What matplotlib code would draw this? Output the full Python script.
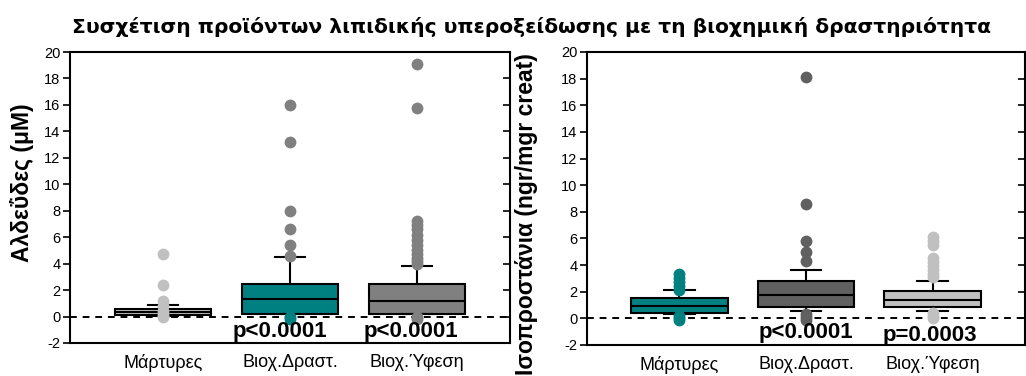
import matplotlib
matplotlib.use("Agg")
import matplotlib.pyplot as plt

# ---------------- data ----------------
categories = ['Μάρτυρες', 'Βιοχ.Δραστ.', 'Βιοχ.Ύφεση']
title = 'Συσχέτιση προϊόντων λιπιδικής υπεροξείδωσης με τη βιοχημική δραστηριότητα'
left_ylabel = 'Αλδεΰδες (μM)'
right_ylabel = 'Ισοπροστάνια (ngr/mgr creat)'

# Aldehydes (left panel)
ald_q1 = [0.15, 0.2, 0.2]
ald_med = [0.35, 1.35, 1.2]
ald_q3 = [0.55, 2.45, 2.45]
ald_whislo = [0.05, 0.2, 0.2]
ald_whishi = [0.9, 4.5, 3.85]
ald_fliers_hi = [[4.7, 2.4, 1.2, 0.8],
                 [16.0, 13.2, 8.0, 6.6, 5.4, 4.6],
                 [19.1, 15.8, 7.2, 6.9, 6.6, 6.2, 5.8, 5.4, 5.0, 4.7, 4.4, 4.2, 4.0]]
ald_fliers_lo = [[0.45, 0.1, -0.05],
                 [0.0, -0.2],
                 [0.0, -0.2]]
ald_pvals = ['', 'p<0.0001', 'p<0.0001']

# Isoprostanes (right panel)
iso_q1 = [0.37, 0.88, 0.88]
iso_med = [0.92, 1.73, 1.35]
iso_q3 = [1.5, 2.82, 2.03]
iso_whislo = [0.3, 0.52, 0.52]
iso_whishi = [2.12, 3.65, 2.82]
iso_fliers_hi = [[3.3, 3.0, 2.7, 2.4, 2.1],
                 [18.1, 8.6, 5.8, 5.0, 4.3],
                 [6.1, 5.8, 5.5, 4.5, 4.2, 3.9, 3.6, 3.3, 3.1]]
iso_fliers_lo = [[0.2, 0.0, -0.15],
                 [0.3, 0.1, -0.1],
                 [0.4, 0.2, 0.0]]
iso_pvals = ['', 'p<0.0001', 'p=0.0003']

yticks = [-2, 0, 2, 4, 6, 8, 10, 12, 14, 16, 18, 20]

# ---------------- styles ----------------
TEAL = '#008080'
GRAY = '#808080'
LGRAY = '#c0c0c0'
DGRAY = '#606060'

ald_face = [LGRAY, TEAL, GRAY]
ald_hi_col = [LGRAY, GRAY, GRAY]
ald_lo_col = [LGRAY, TEAL, GRAY]
iso_face = [TEAL, DGRAY, LGRAY]
iso_hi_col = [TEAL, DGRAY, LGRAY]
iso_lo_col = [TEAL, DGRAY, LGRAY]

W, H = 1026, 376
fig = plt.figure(figsize=(W / 100, H / 100), dpi=100)
fig.patch.set_facecolor('white')

def frac(x0, y_top, x1, y_bot):
    return [x0 / W, 1 - y_bot / H, (x1 - x0) / W, (y_bot - y_top) / H]

ax1 = fig.add_axes(frac(70, 52, 510, 343))
ax2 = fig.add_axes(frac(587, 52, 1025, 345))

TICKFONT = 'Liberation Sans'

def draw_panel(ax, q1, med, q3, wlo, whi, fl_hi, fl_lo, face, hi_col, lo_col, pvals, ppos):
    pos = list(range(1, len(categories) + 1))
    stats = []
    for i in range(len(categories)):
        stats.append(dict(q1=q1[i], med=med[i], q3=q3[i], whislo=wlo[i],
                          whishi=whi[i], fliers=[], label=categories[i]))
    ax.axhline(0, color='black', lw=1.4, ls=(0, (3.5, 3)), zorder=1)
    bp = ax.bxp(stats, positions=pos, widths=0.76, capwidths=0.24,
                showfliers=False, patch_artist=True,
                boxprops=dict(linewidth=1.5, edgecolor='black'),
                medianprops=dict(color='black', linewidth=1.5),
                whiskerprops=dict(color='black', linewidth=1.5),
                capprops=dict(color='black', linewidth=1.5))
    for patch, c in zip(bp['boxes'], face):
        patch.set_facecolor(c)
        patch.set_zorder(2)
    for i, p in enumerate(pos):
        ax.plot([p] * len(fl_hi[i]), fl_hi[i], 'o', color=hi_col[i],
                markersize=8.5, markeredgewidth=0, zorder=4, clip_on=False)
        ax.plot([p] * len(fl_lo[i]), fl_lo[i], 'o', color=lo_col[i],
                markersize=8.5, markeredgewidth=0, zorder=4, clip_on=False)
    for i, t in enumerate(pvals):
        if t:
            ax.text(ppos[i][0], ppos[i][1], t, ha='center', va='center',
                    fontsize=16, fontweight='bold', family='Liberation Sans',
                    zorder=5, clip_on=False)
    ax.set_xlim(0.27, 3.73)
    ax.set_ylim(-2, 20)
    ax.set_yticks(yticks)
    ax.set_yticklabels([str(v) for v in yticks], family=TICKFONT, fontsize=10.5)
    ax.set_xticks(pos)
    ax.set_xticklabels(categories, family=TICKFONT, fontsize=13)
    ax.tick_params(axis='x', length=0, pad=8)
    ax.tick_params(axis='y', direction='out', length=5, width=1.2, pad=2,
                   right=True)
    for s in ax.spines.values():
        s.set_linewidth(1.5)
        s.set_color('black')
    # right-side ticks point inward
    for tl in ax.yaxis.get_ticklines()[1::2]:
        tl.set_marker(0)
        tl.set_markersize(5)

draw_panel(ax1, ald_q1, ald_med, ald_q3, ald_whislo, ald_whishi,
           ald_fliers_hi, ald_fliers_lo, ald_face, ald_hi_col, ald_lo_col,
           ald_pvals, [None, (1.92, -1.15), (2.95, -1.15)])
draw_panel(ax2, iso_q1, iso_med, iso_q3, iso_whislo, iso_whishi,
           iso_fliers_hi, iso_fliers_lo, iso_face, iso_hi_col, iso_lo_col,
           iso_pvals, [None, (2.0, -1.05), (2.98, -1.3)])

fig.text(532 / W, 1 - 27 / H, title, ha='center', va='center',
         fontsize=14.6, fontweight='bold', family='DejaVu Sans')
fig.text(22 / W, 1 - 183 / H, left_ylabel, ha='center', va='center',
         rotation=90, fontsize=16.5, fontweight='bold', family='Liberation Sans')
fig.text(527 / W, 1 - 214 / H, right_ylabel, ha='center', va='center',
         rotation=90, fontsize=16.5, fontweight='bold', family='Liberation Sans')

fig.savefig('out.png', dpi=100, facecolor='white')
